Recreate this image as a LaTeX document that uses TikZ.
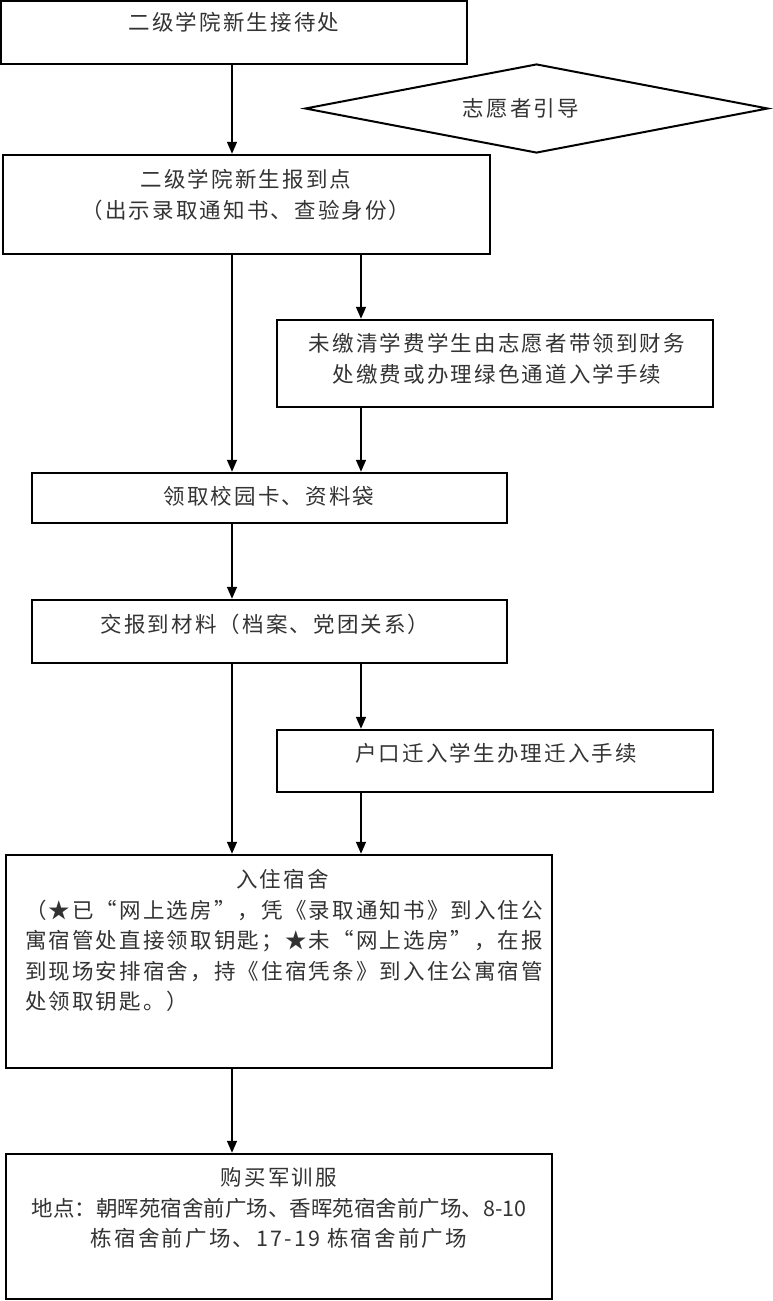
\documentclass[tikz,border=0pt]{standalone}
\usepackage{fontspec}
\usetikzlibrary{arrows.meta,shapes.geometric}
\newfontfamily\cjk[LetterSpace=10]{Noto Sans CJK SC}
\begin{document}
\begin{tikzpicture}[x=1pt,y=-1pt,
		box/.style={draw,line width=2.5pt,inner sep=0pt},
		txt/.style={font={\cjk\fontsize{21.5}{30.5}\selectfont},text=black!80,inner sep=0pt,align=center},
		arr/.style={line width=1.6pt,-{Triangle[length=12pt,width=10pt]}}]
		\useasboundingbox (0,0) rectangle (772,1301);
		\coordinate (L) at (232,0);
		\coordinate (R) at (361,0);
		\node[box,minimum width=466pt,minimum height=63pt] (b1) at (234,32.5) {};
		\node[box,minimum width=487pt,minimum height=99pt] (b2) at (246.5,204.5) {};
		\node[draw,line width=2pt,diamond,shape aspect=5.2,inner sep=0pt,minimum width=463pt,minimum height=89pt] (d1) at (536.5,108.5) {};
		\node[box,minimum width=436pt,minimum height=87pt] (b3) at (495,363.5) {};
		\node[box,minimum width=475pt,minimum height=50pt] (b4) at (269.5,498) {};
		\node[box,minimum width=475pt,minimum height=63pt] (b5) at (269.5,631.5) {};
		\node[box,minimum width=436pt,minimum height=62pt] (b6) at (495,761) {};
		\node[box,minimum width=546pt,minimum height=213pt] (b7) at (279,961.5) {};
		\node[box,minimum width=546pt,minimum height=145pt] (b8) at (279,1226.5) {};
		% texts
		\node[txt] (t1) at (234,22) {二级学院新生接待处};
		\node[txt] (td) at (521,108) {志愿者引导};
		\node[txt] (t2) at (246,195) {二级学院新生报到点\\（出示录取通知书、查验身份）};
		\node[txt] (t3) at (497,359) {未缴清学费学生由志愿者带领到财务\\处缴费或办理绿色通道入学手续};
		\node[txt] (t4) at (269,496) {领取校园卡、资料袋};
		\node[txt] (t5) at (265,624) {交报到材料（档案、党团关系）};
		\node[txt] (t6) at (496,753) {户口迁入学生办理迁入手续};
		\node[txt,text width=515pt,align=left] (t7) at (282.5,940.5) {\makebox[\linewidth]{入住宿舍}\\
			（★已“网上选房”，凭《录取通知书》到入住公\\
			寓宿管处直接领取钥匙；★未“网上选房”，在报\\
			到现场安排宿舍，持《住宿凭条》到入住公寓宿管\\
			处领取钥匙。）};
		\node[txt] (t8) at (279,1208) {购买军训服\\
			{\addfontfeature{LetterSpace=0}地点：朝晖苑宿舍前广场、香晖苑宿舍前广场、8-10}\\
			栋宿舍前广场、17-19 栋宿舍前广场};
		% arrows
		\draw[arr] (b1.south -| L) -- (b2.north -| L);
		\draw[arr] (b2.south -| R) -- (b3.north -| R);
		\draw[arr] (b2.south -| L) -- (b4.north -| L);
		\draw[arr] (b3.south -| R) -- (b4.north -| R);
		\draw[arr] (b4.south -| L) -- (b5.north -| L);
		\draw[arr] (b5.south -| R) -- (b6.north -| R);
		\draw[arr] (b5.south -| L) -- (b7.north -| L);
		\draw[arr] (b6.south -| R) -- (b7.north -| R);
		\draw[arr] (b7.south -| L) -- (b8.north -| L);
	\end{tikzpicture}
\end{document}
